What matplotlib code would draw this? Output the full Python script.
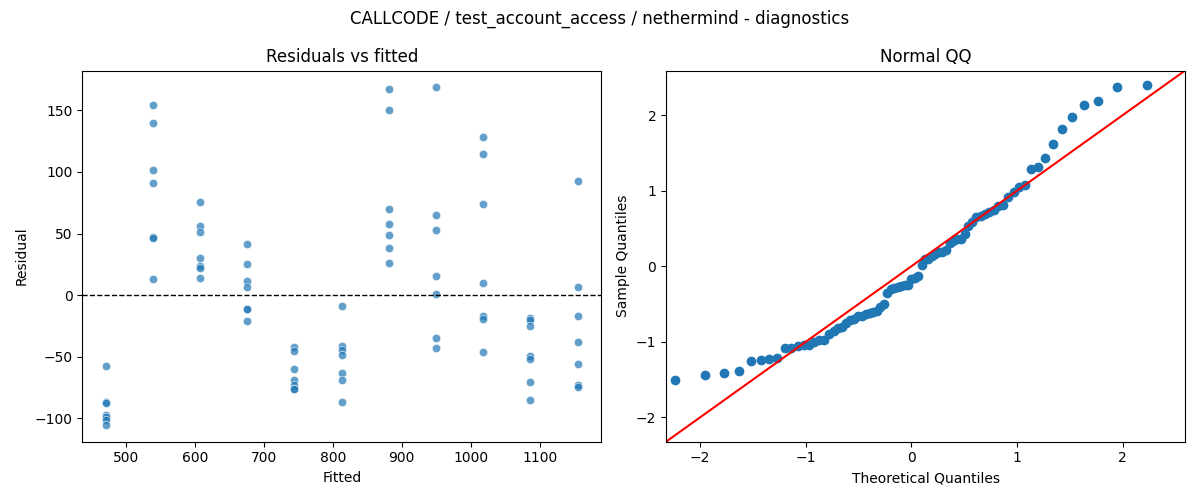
"""Residual diagnostics: residuals vs fitted + normal QQ of standardized residuals."""

from statistics import NormalDist

import matplotlib

matplotlib.use("Agg")
import matplotlib.pyplot as plt  # noqa: E402
import numpy as np  # noqa: E402

TITLE = "CALLCODE / test_account_access / nethermind - diagnostics"

# fitted value of each group (one column of points per fitted value)
FITTED_LEVELS = [471, 539, 607.5, 676, 744, 813, 881, 950, 1018, 1086, 1155]

# residuals, one list per fitted level
RESIDUALS = [
    [-57.3, -86.5, -87.8, -97.0, -99.2, -101.1, -105.4],
    [154.3, 139.5, 101.4, 90.8, 47.2, 46.4, 13.2],
    [75.4, 56.2, 51.1, 30.0, 23.8, 21.9, 13.8],
    [41.6, 25.4, 11.6, 6.5, -11.0, -11.3, -20.8],
    [-42.4, -45.7, -59.7, -68.6, -72.7, -75.9, -76.2],
    [-8.9, -41.6, -44.3, -48.6, -63.0, -68.9, -86.8],
    [167.0, 150.0, 69.7, 57.6, 48.6, 38.1, 25.9],
    [168.6, 64.9, 52.7, 15.4, 1.1, -34.9, -43.0],
    [128.1, 114.3, 73.8, 10.0, -16.8, -19.5, -46.2],
    [-18.6, -20.0, -25.1, -49.7, -52.2, -70.5, -85.1],
    [92.7, 6.5, -17.0, -38.1, -55.9, -72.7, -74.3],
]


def main() -> None:
    fitted = np.concatenate([[f] * len(r) for f, r in zip(FITTED_LEVELS, RESIDUALS)])
    resid = np.concatenate([np.asarray(r, dtype=float) for r in RESIDUALS])

    fig, (ax1, ax2) = plt.subplots(1, 2, figsize=(12, 5))

    ax1.scatter(fitted, resid, s=36, alpha=0.7, color="#1f77b4",
                edgecolor="white", linewidth=0.5)
    ax1.axhline(0, color="black", ls="--", lw=1)
    ax1.set_xlabel("Fitted")
    ax1.set_ylabel("Residual")
    ax1.set_title("Residuals vs fitted")

    # QQ of standardized residuals, plotting positions i/(n+1), 45-degree line
    z = np.sort((resid - resid.mean()) / resid.std(ddof=1))
    n = len(z)
    nd = NormalDist()
    theo = np.array([nd.inv_cdf(i / (n + 1)) for i in range(1, n + 1)])
    ax2.plot(theo, z, "o", color="#1f77b4", markersize=6)
    ax2.set_xmargin(0.02)
    ax2.autoscale_view()
    xl, yl = ax2.get_xlim(), ax2.get_ylim()
    end = [min(xl[0], yl[0]), max(xl[1], yl[1])]
    ax2.plot(end, end, "r-")
    ax2.set_xlim(end)
    ax2.set_ylim(end)
    ax2.set_xlabel("Theoretical Quantiles")
    ax2.set_ylabel("Sample Quantiles")
    ax2.set_title("Normal QQ")

    fig.suptitle(TITLE)
    fig.tight_layout()
    fig.savefig("out.png", dpi=100)
    plt.close(fig)


if __name__ == "__main__":
    main()
